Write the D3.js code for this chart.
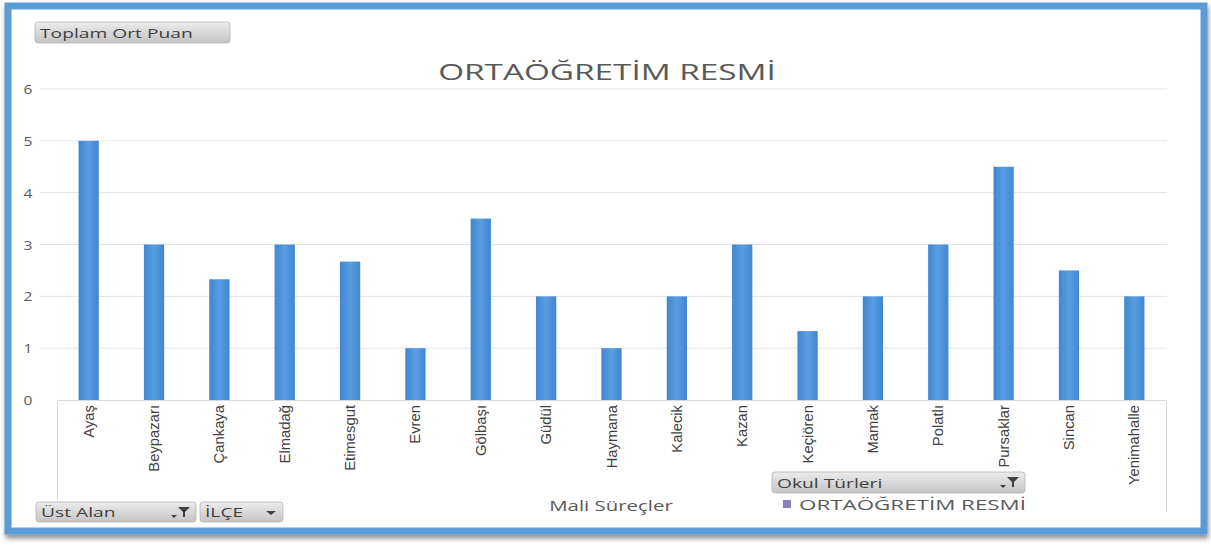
<!DOCTYPE html>
<html><head><meta charset="utf-8">
<script src="https://cdn.jsdelivr.net/npm/d3@7"></script>
<style>
body{margin:0;background:#fff;}
svg{display:block;}
</style></head>
<body><svg id="c" width="1211" height="546"></svg>
<script>
const categories = ["Ayaş","Beypazarı","Çankaya","Elmadağ","Etimesgut","Evren","Gölbaşı","Güdül","Haymana","Kalecik","Kazan","Keçiören","Mamak","Polatlı","Pursaklar","Sincan","Yenimahalle"];
const values = [5,3,2.33,3,2.67,1,3.5,2,1,2,3,1.33,2,3,4.5,2.5,2];
const yTicks = [0,1,2,3,4,5,6];
const title = "ORTAÖĞRETİM RESMİ";
const seriesName = "ORTAÖĞRETİM RESMİ";
const xTitle = "Mali Süreçler";

const SX = 1.48; // horizontal stretch of the original screenshot text
const svg = d3.select("#c");
const defs = svg.append("defs");
const sh = defs.append("filter").attr("id","sh").attr("x","-5%").attr("y","-5%").attr("width","110%").attr("height","120%");
sh.append("feDropShadow").attr("dx",1).attr("dy",4).attr("stdDeviation",2.5).attr("flood-color","#000").attr("flood-opacity",0.45);
const bg = defs.append("linearGradient").attr("id","btn").attr("x1",0).attr("y1",0).attr("x2",0).attr("y2",1);
bg.append("stop").attr("offset","0%").attr("stop-color","#ececec");
bg.append("stop").attr("offset","100%").attr("stop-color","#c4c4c4");
const barG = defs.append("linearGradient").attr("id","bar").attr("x1",0).attr("y1",0).attr("x2",1).attr("y2",0);
barG.append("stop").attr("offset","0%").attr("stop-color","#3f86d2");
barG.append("stop").attr("offset","50%").attr("stop-color","#5a9ee0");
barG.append("stop").attr("offset","100%").attr("stop-color","#3f86d2");

function stext(x0,y0,str,size,anchor,fill,sx){
  return svg.append("text").attr("transform",`translate(${x0},${y0}) scale(${sx||SX},1)`)
    .attr("text-anchor",anchor||"start").attr("font-family","Open Sans, sans-serif")
    .attr("font-size",size).attr("fill",fill||"#595959").text(str);
}

// frame
svg.append("rect").attr("x",8).attr("y",6).attr("width",1196).attr("height",525)
  .attr("fill","#fff").attr("stroke","#5b9bd5").attr("stroke-width",7).attr("filter","url(#sh)");

const x = d3.scaleBand().domain(categories).range([56,1167]).paddingInner(0.69).paddingOuter(0.345);
const y = d3.scaleLinear().domain([0,6]).range([400,89]);

// gridlines
svg.append("g").selectAll("line").data(yTicks.filter(d=>d>0)).join("line")
  .attr("x1",40).attr("x2",1167).attr("y1",d=>y(d)).attr("y2",d=>y(d))
  .attr("stroke","#e3e3e3").attr("stroke-width",1);

// y tick labels
svg.append("g").selectAll("text").data(yTicks).join("text")
  .attr("transform",d=>`translate(28,${y(d)+5}) scale(1.2,1)`).attr("text-anchor","middle")
  .attr("font-family","Open Sans, sans-serif").attr("font-size",13).attr("fill","#595959")
  .text(d=>d);

// bars
svg.append("g").selectAll("rect").data(categories).join("rect")
  .attr("x",d=>x(d)).attr("width",x.bandwidth())
  .attr("y",(d,i)=>y(values[i])).attr("height",(d,i)=>y(0)-y(values[i]))
  .attr("fill","url(#bar)");

// axis lines
svg.append("line").attr("x1",57).attr("x2",1167).attr("y1",400.5).attr("y2",400.5).attr("stroke","#d9d9d9");
svg.append("line").attr("x1",57.5).attr("x2",57.5).attr("y1",400).attr("y2",500).attr("stroke","#d9d9d9");
svg.append("line").attr("x1",1166.5).attr("x2",1166.5).attr("y1",400).attr("y2",512).attr("stroke","#d9d9d9");

// category labels
svg.append("g").selectAll("text").data(categories).join("text")
  .attr("transform",d=>`translate(${x(d)+x.bandwidth()/2+5},405) rotate(-90)`)
  .attr("text-anchor","end")
  .attr("font-family","Liberation Sans Narrow, Arial Narrow, sans-serif").attr("font-size",14.8)
  .attr("fill","#404040").text(d=>d);

// title
stext(607,80,title,22.5,"middle");
// x title
stext(611,511,xTitle,13.8,"middle");

// buttons
function button(x0,y0,w,h,label,icon){
  const g = svg.append("g");
  g.append("rect").attr("x",x0).attr("y",y0).attr("width",w).attr("height",h).attr("rx",3)
   .attr("fill","url(#btn)").attr("stroke","#b5b5b5").attr("stroke-width",0.8);
  g.append("text").attr("transform",`translate(${x0+5},${y0+h/2+5}) scale(${SX},1)`)
   .attr("font-family","Open Sans, sans-serif")
   .attr("font-size",13).attr("fill","#404040").text(label);
  if(icon==="filter"){
    const cx=x0+w-12, cy=y0+5;
    g.append("path").attr("d",`M${cx-6},${cy} L${cx+6},${cy} L${cx+1},${cy+5} L${cx+1},${cy+10} L${cx-1},${cy+10} L${cx-1},${cy+5} Z`).attr("fill","#404040");
    g.append("path").attr("d",`M${cx-13},${cy+8} L${cx-7},${cy+8} L${cx-10},${cy+11} Z`).attr("fill","#404040");
  } else if(icon==="drop"){
    const cx=x0+w-12, cy=y0+h/2-1;
    g.append("path").attr("d",`M${cx-5},${cy} L${cx+5},${cy} L${cx},${cy+4} Z`).attr("fill","#404040");
  }
}
button(35,22,195,21,"Toplam Ort Puan",null);
button(36,502,160,20,"Üst Alan","filter");
button(200,502,83,20,"İLÇE","drop");
button(772,472,253,21,"Okul Türleri","filter");

// legend
svg.append("rect").attr("x",783).attr("y",500).attr("width",8).attr("height",8).attr("fill","#8a7fc0");
stext(799,510,seriesName,14,"start","#595959",1.6);
</script></body></html>
